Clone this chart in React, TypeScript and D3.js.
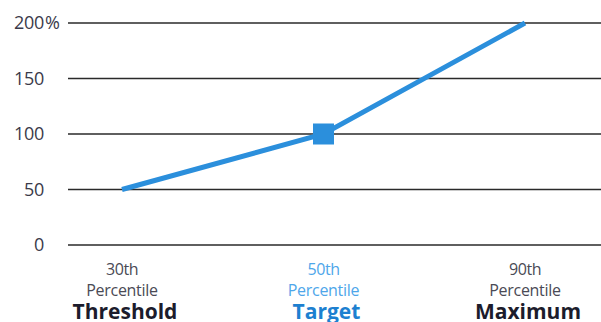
import React from "react";
import * as d3 from "d3";

const categories = ["30th", "50th", "90th"];
const subLabels = ["Percentile", "Percentile", "Percentile"];
const names = ["Threshold", "Target", "Maximum"];
const payouts = [50, 100, 200];
const yTicks = [0, 50, 100, 150, 200];

const W = 601;
const H = 322;

export default function App() {
  const x = d3.scalePoint<string>().domain(categories).range([122, 525]).padding(0);
  const y = d3.scaleLinear().domain([0, 200]).range([245, 23]);
  const line = d3
    .line<number>()
    .x((_, i) => x(categories[i]) as number)
    .y((d) => y(d));

  const font = "'Open Sans', 'Noto Sans', sans-serif";
  const isTarget = (i: number) => i === 1;

  return (
    <svg
      width={W}
      height={H}
      style={{ position: "absolute", left: 0, top: 0, background: "#fff" }}
      fontFamily={font}
    >
      {yTicks.map((t) => (
        <g key={t}>
          <line x1={68} x2={W} y1={y(t)} y2={y(t)} stroke="#2a2a2a" strokeWidth={1.6} />
          <text x={44} y={y(t)} dy="0.36em" textAnchor="end" fontSize={18} fill="#3a3a4a" letterSpacing={-0.3}>
            {t}
          </text>
          {t === 200 && (
            <text x={45} y={y(t)} dy="0.36em" textAnchor="start" fontSize={18} fill="#3a3a4a">
              %
            </text>
          )}
        </g>
      ))}
      <path
        d={line(payouts) || ""}
        fill="none"
        stroke="#2b8fdc"
        strokeWidth={5}
        strokeLinecap="butt"
      />
      <rect
        x={(x(categories[1]) as number) - 10.5}
        y={y(payouts[1]) - 10.5}
        width={21}
        height={21}
        fill="#2b8fdc"
      />
      {categories.map((c, i) => {
        const cx = x(c) as number;
        return (
          <g key={c}>
            <text x={cx} y={275} textAnchor="middle" fontSize={16} fill={isTarget(i) ? "#4ea6ea" : "#4a4a55"} letterSpacing={-0.4}>
              {c}
            </text>
            <text x={cx} y={296} textAnchor="middle" fontSize={16} fill={isTarget(i) ? "#4ea6ea" : "#4a4a55"} letterSpacing={-0.3}>
              {subLabels[i]}
            </text>
            <text x={cx + 3} y={319} textAnchor="middle" fontSize={21} fontWeight="bold" fill={isTarget(i) ? "#1d80d0" : "#1c1c2c"}>
              {names[i]}
            </text>
          </g>
        );
      })}
    </svg>
  );
}
